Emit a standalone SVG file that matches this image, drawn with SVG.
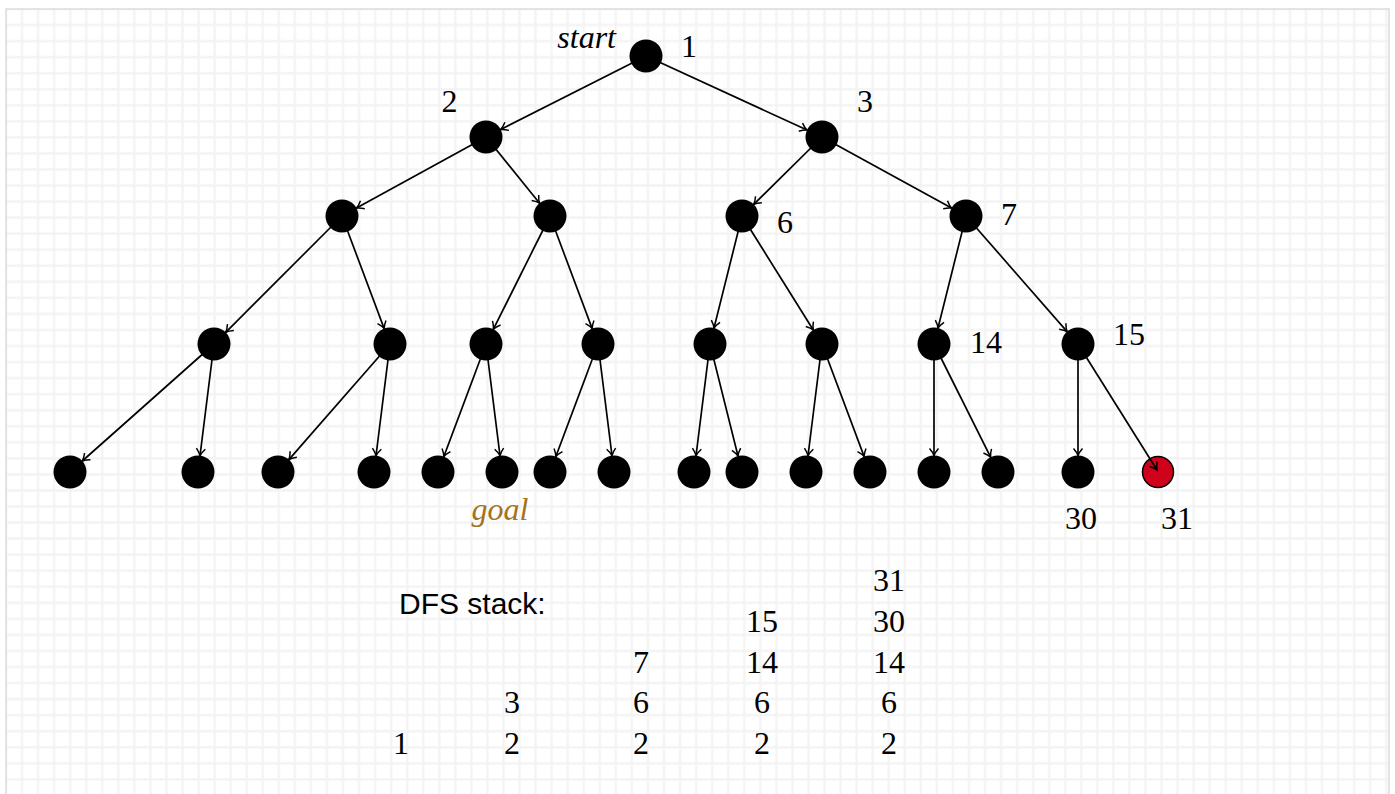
<svg xmlns="http://www.w3.org/2000/svg" width="1395" height="794" viewBox="0 0 1395 794">
<defs>
<pattern id="grid" patternUnits="userSpaceOnUse" x="-2.075" y="0.925" width="16.05" height="16.05">
<path d="M8.025,0 V16.05 M0,8.025 H16.05" stroke="#f3f3f3" stroke-width="2.2" fill="none"/>
</pattern>
<marker id="arr" markerUnits="userSpaceOnUse" viewBox="-10 -7 12 14" markerWidth="12" markerHeight="14" refX="0" refY="0" orient="auto" overflow="visible">
<path d="M-7,-4.5 Q-3,-1 0,0 Q-3,1 -7,4.5" fill="none" stroke="#000" stroke-width="1.5"/>
</marker>
<style>
.node{fill:#000;}
.goalnode{fill:#d0021b;stroke:#000;stroke-width:1.5;}
.edge{stroke:#000;stroke-width:1.7;fill:none;marker-end:url(#arr);}
.lbl{font-family:"Liberation Serif","Times New Roman",serif;font-size:32px;fill:#000;text-anchor:middle;}
.it{font-family:"Liberation Serif","Times New Roman",serif;font-size:32px;font-style:italic;}
.sans{font-family:"Liberation Sans",Arial,sans-serif;font-size:30px;fill:#000;}
</style>
</defs>
<rect x="0" y="0" width="1395" height="794" fill="#fff"/>
<rect x="6" y="9" width="1383" height="800" fill="url(#grid)" stroke="#dcdcdc" stroke-width="1.5"/>

<g id="nodes">
<g id="n1"><circle class="node" cx="646" cy="56" r="16.5"/></g>
<g id="n2"><circle class="node" cx="486" cy="137" r="16.5"/></g>
<g id="n3"><circle class="node" cx="822" cy="137" r="16.5"/></g>
<g id="n4"><circle class="node" cx="342" cy="216" r="16.5"/></g>
<g id="n5"><circle class="node" cx="550" cy="216" r="16.5"/></g>
<g id="n6"><circle class="node" cx="742" cy="216" r="16.5"/></g>
<g id="n7"><circle class="node" cx="966" cy="216" r="16.5"/></g>
<g id="n8"><circle class="node" cx="214" cy="344" r="16.5"/></g>
<g id="n9"><circle class="node" cx="390" cy="344" r="16.5"/></g>
<g id="n10"><circle class="node" cx="486" cy="344" r="16.5"/></g>
<g id="n11"><circle class="node" cx="598" cy="344" r="16.5"/></g>
<g id="n12"><circle class="node" cx="710" cy="344" r="16.5"/></g>
<g id="n13"><circle class="node" cx="822" cy="344" r="16.5"/></g>
<g id="n14"><circle class="node" cx="934" cy="344" r="16.5"/></g>
<g id="n15"><circle class="node" cx="1078" cy="344" r="16.5"/></g>
<g id="n16"><circle class="node" cx="70" cy="472" r="16.5"/></g>
<g id="n17"><circle class="node" cx="198" cy="472" r="16.5"/></g>
<g id="n18"><circle class="node" cx="278" cy="472" r="16.5"/></g>
<g id="n19"><circle class="node" cx="374" cy="472" r="16.5"/></g>
<g id="n20"><circle class="node" cx="438" cy="472" r="16.5"/></g>
<g id="n21"><circle class="node" cx="502" cy="472" r="16.5"/></g>
<g id="n22"><circle class="node" cx="550" cy="472" r="16.5"/></g>
<g id="n23"><circle class="node" cx="614" cy="472" r="16.5"/></g>
<g id="n24"><circle class="node" cx="694" cy="472" r="16.5"/></g>
<g id="n25"><circle class="node" cx="742" cy="472" r="16.5"/></g>
<g id="n26"><circle class="node" cx="806" cy="472" r="16.5"/></g>
<g id="n27"><circle class="node" cx="870" cy="472" r="16.5"/></g>
<g id="n28"><circle class="node" cx="934" cy="472" r="16.5"/></g>
<g id="n29"><circle class="node" cx="998" cy="472" r="16.5"/></g>
<g id="n30"><circle class="node" cx="1078" cy="472" r="16.5"/></g>
<g id="n31"><circle class="goalnode" cx="1158" cy="472" r="15.5"/></g>
</g>

<g id="connectors">
<line class="edge" x1="646" y1="56" x2="500.7" y2="129.5"/>
<line class="edge" x1="646" y1="56" x2="807.0" y2="130.1"/>
<line class="edge" x1="486" y1="137" x2="356.5" y2="208.1"/>
<line class="edge" x1="486" y1="137" x2="539.6" y2="203.2"/>
<line class="edge" x1="822" y1="137" x2="753.7" y2="204.4"/>
<line class="edge" x1="822" y1="137" x2="951.5" y2="208.1"/>
<line class="edge" x1="342" y1="216" x2="225.7" y2="332.3"/>
<line class="edge" x1="342" y1="216" x2="384.2" y2="328.6"/>
<line class="edge" x1="550" y1="216" x2="493.4" y2="329.2"/>
<line class="edge" x1="550" y1="216" x2="592.2" y2="328.6"/>
<line class="edge" x1="742" y1="216" x2="714.0" y2="328.0"/>
<line class="edge" x1="742" y1="216" x2="813.3" y2="330.0"/>
<line class="edge" x1="966" y1="216" x2="938.0" y2="328.0"/>
<line class="edge" x1="966" y1="216" x2="1067.1" y2="331.6"/>
<line class="edge" x1="214" y1="344" x2="82.3" y2="461.0"/>
<line class="edge" x1="214" y1="344" x2="200.0" y2="455.6"/>
<line class="edge" x1="390" y1="344" x2="288.9" y2="459.6"/>
<line class="edge" x1="390" y1="344" x2="376.0" y2="455.6"/>
<line class="edge" x1="486" y1="344" x2="443.8" y2="456.6"/>
<line class="edge" x1="486" y1="344" x2="500.0" y2="455.6"/>
<line class="edge" x1="598" y1="344" x2="555.8" y2="456.6"/>
<line class="edge" x1="598" y1="344" x2="612.0" y2="455.6"/>
<line class="edge" x1="710" y1="344" x2="696.0" y2="455.6"/>
<line class="edge" x1="710" y1="344" x2="738.0" y2="456.0"/>
<line class="edge" x1="822" y1="344" x2="808.0" y2="455.6"/>
<line class="edge" x1="822" y1="344" x2="864.2" y2="456.6"/>
<line class="edge" x1="934" y1="344" x2="934" y2="455.5"/>
<line class="edge" x1="934" y1="344" x2="990.6" y2="457.2"/>
<line class="edge" x1="1078" y1="344" x2="1078" y2="455.5"/>
<line class="edge" x1="1078" y1="344" x2="1157" y2="470"/>
</g>

<g id="labels">
<text class="it" x="616" y="48" text-anchor="end" fill="#000">start</text>
<text class="lbl" x="689" y="57">1</text>
<text class="lbl" x="449.5" y="112">2</text>
<text class="lbl" x="865" y="112">3</text>
<text class="lbl" x="785" y="233">6</text>
<text class="lbl" x="1009" y="225">7</text>
<text class="lbl" x="986" y="353">14</text>
<text class="lbl" x="1129" y="345">15</text>
<text class="lbl" x="1081" y="529">30</text>
<text class="lbl" x="1177" y="529">31</text>
<text class="it" x="500" y="520" text-anchor="middle" fill="#a4731b">goal</text>
</g>

<g id="stack">
<text class="sans" x="399" y="614">DFS stack:</text>
<text class="lbl" x="401" y="754">1</text>
<text class="lbl" x="512" y="754">2</text>
<text class="lbl" x="512" y="713">3</text>
<text class="lbl" x="641" y="754">2</text>
<text class="lbl" x="641" y="713">6</text>
<text class="lbl" x="641" y="673">7</text>
<text class="lbl" x="762" y="754">2</text>
<text class="lbl" x="762" y="713">6</text>
<text class="lbl" x="762" y="673">14</text>
<text class="lbl" x="762" y="632">15</text>
<text class="lbl" x="889" y="754">2</text>
<text class="lbl" x="889" y="713">6</text>
<text class="lbl" x="889" y="673">14</text>
<text class="lbl" x="889" y="632">30</text>
<text class="lbl" x="889" y="591">31</text>
</g>
</svg>
